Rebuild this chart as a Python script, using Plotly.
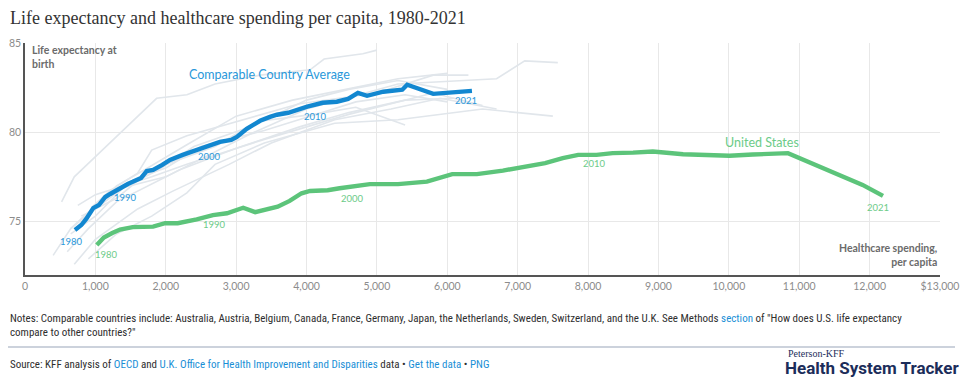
import plotly.graph_objects as go

# ---------------- data ----------------
years = list(range(1980, 2022))

avg_spend = [710, 800, 870, 920, 970, 1050, 1140, 1210, 1280, 1340,
             1390, 1460, 1530, 1650, 1730, 1820, 1950, 2060, 2240, 2430,
             2600, 2770, 2930, 3010, 3150, 3340, 3480, 3580, 3740, 3860,
             4010, 4230, 4430, 4590, 4730, 4860, 5090, 5360, 5430, 5800,
             6070, 6350]
avg_le = [74.52, 74.80, 75.14, 75.47, 75.75, 75.92, 76.37, 76.54, 76.71, 76.82,
          76.93, 77.10, 77.22, 77.44, 77.83, 77.89, 78.17, 78.45, 78.73, 79.01,
          79.24, 79.46, 79.57, 79.74, 80.19, 80.64, 80.86, 80.98, 81.09, 81.26,
          81.43, 81.65, 81.71, 81.87, 82.21, 82.04, 82.27, 82.38, 82.66, 82.15,
          82.21, 82.32]

us_spend = [1020, 1120, 1240, 1350, 1530, 1680, 1820, 1990, 2170, 2440,
            2670, 2870, 3100, 3270, 3440, 3590, 3760, 3930, 4050, 4300,
            4470, 4900, 5300, 5710, 6070, 6420, 6790, 7140, 7390, 7640,
            7860, 8120, 8350, 8640, 8920, 9350, 9700, 10010, 10340, 10840,
            11900, 12190]
us_le = [73.68, 74.10, 74.35, 74.55, 74.68, 74.70, 74.71, 74.90, 74.90, 75.12,
         75.36, 75.46, 75.77, 75.52, 75.70, 75.83, 76.15, 76.58, 76.71, 76.75,
         76.86, 77.09, 77.09, 77.23, 77.65, 77.65, 77.85, 78.13, 78.27, 78.55,
         78.73, 78.73, 78.83, 78.86, 78.92, 78.77, 78.75, 78.68, 78.75, 78.83,
         77.05, 76.43]

# individual comparable countries (sampled years), faint background lines
country_names = ["Australia", "Austria", "Belgium", "Canada", "France", "Germany",
                 "Japan", "Netherlands", "Sweden", "Switzerland", "U.K."]
aus_spend = [650, 960, 1300, 1700, 2300, 3000, 3800, 4700, 5300, 6000]
aus_le = [74.6, 75.6, 77.0, 77.9, 79.3, 80.9, 81.8, 82.5, 83.0, 83.3]
aut_spend = [700, 1000, 1600, 2100, 2900, 3500, 4400, 5200, 5900, 6700]
aut_le = [72.6, 74.0, 75.7, 76.7, 78.2, 79.4, 80.7, 81.3, 81.9, 81.3]
bel_spend = [600, 900, 1300, 1700, 2200, 3000, 3900, 4600, 5400, 6100]
bel_le = [73.3, 74.6, 76.1, 76.9, 77.9, 79.1, 80.3, 81.1, 81.8, 81.9]
can_spend = [800, 1300, 1700, 2000, 2500, 3400, 4300, 4700, 5400, 6000]
can_le = [75.3, 76.3, 77.6, 78.0, 79.2, 80.1, 81.2, 81.7, 82.1, 81.7]
fra_spend = [650, 1000, 1400, 1900, 2400, 3200, 4000, 4600, 5300, 6000]
fra_le = [74.3, 75.3, 76.9, 77.9, 79.2, 80.3, 81.8, 82.4, 82.9, 82.4]
deu_spend = [900, 1300, 1800, 2300, 2700, 3400, 4400, 5300, 6500, 7500]
deu_le = [72.9, 74.3, 75.3, 76.6, 78.2, 79.4, 80.5, 80.7, 81.3, 80.9]
jpn_spend = [520, 700, 1020, 1450, 1870, 2300, 2700, 3340, 4050, 4250, 4800, 5000]
jpn_le = [76.1, 77.5, 78.7, 80.3, 81.9, 82.1, 82.7, 83.2, 83.5, 84.1, 84.4, 84.6]
nld_spend = [750, 1000, 1400, 1800, 2300, 3400, 4600, 5200, 5800, 6500]
nld_le = [75.9, 76.5, 77.0, 77.5, 78.2, 79.6, 81.0, 81.6, 82.2, 81.5]
swe_spend = [950, 1200, 1600, 1800, 2300, 3000, 3900, 5000, 5800, 6300]
swe_le = [75.8, 76.7, 77.7, 79.0, 79.8, 80.6, 81.6, 82.2, 83.2, 83.2]
che_spend = [1000, 1400, 2000, 2600, 3200, 4000, 5300, 6700, 7100, 7570]
che_le = [75.7, 76.9, 77.5, 78.7, 79.9, 81.3, 82.7, 83.0, 84.0, 83.9]
gbr_spend = [400, 650, 950, 1300, 1800, 2700, 3300, 4100, 4700, 5400]
gbr_le = [73.1, 74.6, 75.7, 76.7, 77.9, 79.2, 80.6, 81.0, 81.4, 80.4]

x_ticks = [0, 1000, 2000, 3000, 4000, 5000, 6000, 7000, 8000, 9000, 10000, 11000, 12000, 13000]
x_tick_labels = ["0", "1,000", "2,000", "3,000", "4,000", "5,000", "6,000", "7,000",
                 "8,000", "9,000", "10,000", "11,000", "12,000", "$13,000"]
y_ticks = [75, 80, 85]
label_years = [1980, 1990, 2000, 2010, 2021]

# ---------------- styling ----------------
BLUE = "#1287d0"
BLUE_TXT = "#2a98da"
GREEN = "#5cc47a"
GREEN_TXT = "#6ccb88"
GREY_LINE = "#e1e6eb"
SANS = "Lato, 'Open Sans', sans-serif"
NARROW = "'Liberation Sans Narrow', 'Roboto Condensed', Roboto, sans-serif"

# plot area in pixels: x 25..940, y 43..275
PL, PR, PT, PB = 25, 940, 43, 275
def px(xp):
    return (xp - PL) / (PR - PL)
def py(yp):
    return (PB - yp) / (PB - PT)

fig = go.Figure()

country_series = [(aus_spend, aus_le), (aut_spend, aut_le), (bel_spend, bel_le),
                  (can_spend, can_le), (fra_spend, fra_le), (deu_spend, deu_le),
                  (jpn_spend, jpn_le), (nld_spend, nld_le), (swe_spend, swe_le),
                  (che_spend, che_le), (gbr_spend, gbr_le)]
for name, (xs, ys) in zip(country_names, country_series):
    fig.add_trace(go.Scatter(x=xs, y=ys, mode="lines", name=name,
                             line=dict(color=GREY_LINE, width=1.6),
                             hoverinfo="skip", showlegend=False))

fig.add_trace(go.Scatter(x=avg_spend, y=avg_le, mode="lines", name="Comparable Country Average",
                         line=dict(color=BLUE, width=4.4), showlegend=False))
fig.add_trace(go.Scatter(x=us_spend, y=us_le, mode="lines", name="United States",
                         line=dict(color=GREEN, width=4.4), showlegend=False))

annotations = []
# year labels
blue_shift = {1980: (-3, -11), 1990: (3, -10), 2000: (1, -11), 2010: (8, -10), 2021: (-6, -10)}
green_shift = {1980: (10, -9), 1990: (2, -9), 2000: (13, -10), 2010: (16, -9), 2021: (-5, -12)}
for yr in label_years:
    i = years.index(yr)
    dx, dy = blue_shift[yr]
    annotations.append(dict(x=avg_spend[i], y=avg_le[i], text=str(yr), showarrow=False,
                            xshift=dx, yshift=dy, font=dict(family=SANS, size=9.5, color=BLUE_TXT)))
    dx, dy = green_shift[yr]
    annotations.append(dict(x=us_spend[i], y=us_le[i], text=str(yr), showarrow=False,
                            xshift=dx, yshift=dy, font=dict(family=SANS, size=9.5, color=GREEN_TXT)))

# series labels
annotations.append(dict(x=3480, y=83.22, text="Comparable Country Average", showarrow=False,
                        font=dict(family=SANS, size=12.5, color=BLUE_TXT)))
annotations.append(dict(x=10470, y=79.4, text="United States", showarrow=False,
                        font=dict(family=SANS, size=12.5, color=GREEN_TXT)))

# title
annotations.append(dict(xref="paper", yref="paper", x=px(8), y=py(18), xanchor="left", yanchor="middle",
                        text="Life expectancy and healthcare spending per capita, 1980-2021", showarrow=False,
                        font=dict(family="'Liberation Serif', 'DejaVu Serif', serif", size=18, color="#333333")))

# axis titles inside plot
annotations.append(dict(xref="paper", yref="paper", x=px(30), y=py(42), xanchor="left", yanchor="top",
                        text="<b>Life expectancy at<br>birth</b>", showarrow=False, align="left",
                        font=dict(family=SANS, size=10.5, color="#6b6b6b")))
annotations.append(dict(xref="paper", yref="paper", x=px(939), y=py(270), xanchor="right", yanchor="bottom",
                        text="<b>Healthcare spending,<br>per capita</b>", showarrow=False, align="right",
                        font=dict(family=SANS, size=10.5, color="#6b6b6b")))

# notes
notes = ("Notes: Comparable countries include: Australia, Austria, Belgium, Canada, France, Germany, Japan, "
         "the Netherlands, Sweden, Switzerland, and the U.K. See Methods "
         "<span style='color:#1a8fd6'>section</span> of \"How does U.S. life expectancy"
         "<br>compare to other countries?\"")
annotations.append(dict(xref="paper", yref="paper", x=px(8), y=py(310), xanchor="left", yanchor="top",
                        text=notes, showarrow=False, align="left",
                        font=dict(family=NARROW, size=11, color="#2e2e2e")))
source = ("Source: KFF analysis of <span style='color:#1a8fd6'>OECD</span> and "
          "<span style='color:#1a8fd6'>U.K. Office for Health Improvement and Disparities</span> data \u2022 "
          "<span style='color:#1a8fd6'>Get the data</span> \u2022 <span style='color:#1a8fd6'>PNG</span>")
annotations.append(dict(xref="paper", yref="paper", x=px(8), y=py(364), xanchor="left", yanchor="middle",
                        text=source, showarrow=False, align="left",
                        font=dict(family=NARROW, size=11, color="#2e2e2e")))
annotations.append(dict(xref="paper", yref="paper", x=px(786), y=py(353), xanchor="left", yanchor="middle",
                        text="Peterson-KFF", showarrow=False,
                        font=dict(family="'Liberation Serif', serif", size=10, color="#1c2d5a")))
annotations.append(dict(xref="paper", yref="paper", x=px(783), y=py(368), xanchor="left", yanchor="middle",
                        text="<b>Health System Tracker</b>", showarrow=False,
                        font=dict(family="Roboto, sans-serif", size=17, color="#1c2d5a")))

fig.update_layout(
    width=975, height=384,
    margin=dict(l=PL, r=975 - PR, t=PT, b=384 - PB, autoexpand=False),
    paper_bgcolor="white", plot_bgcolor="white",
    xaxis=dict(range=[0, 13000], tickvals=x_ticks, ticktext=x_tick_labels,
               showgrid=True, gridcolor="#e8e8e8", gridwidth=1.2,
               showline=True, linecolor="#555555", linewidth=2,
               zeroline=False, ticks="", automargin=False,
               tickfont=dict(family=SANS, size=10.5, color="#8c8c8c")),
    yaxis=dict(range=[72, 85], tickvals=y_ticks,
               showgrid=True, gridcolor="#e8e8e8", gridwidth=1.2,
               showline=True, linecolor="#555555", linewidth=1.5,
               zeroline=False, ticks="", automargin=False,
               tickfont=dict(family=SANS, size=10.5, color="#8c8c8c")),
    annotations=annotations,
    shapes=[dict(type="line", xref="paper", yref="paper",
                 x0=px(8), x1=px(955), y0=py(347), y1=py(347),
                 line=dict(color="#9aa6ba", width=1.2))],
    hovermode=False,
    showlegend=False,
)

fig.write_html("out.html",
               config={"displayModeBar": False},
               post_script="document.body.style.margin='0px'; document.body.style.overflow='hidden';")
